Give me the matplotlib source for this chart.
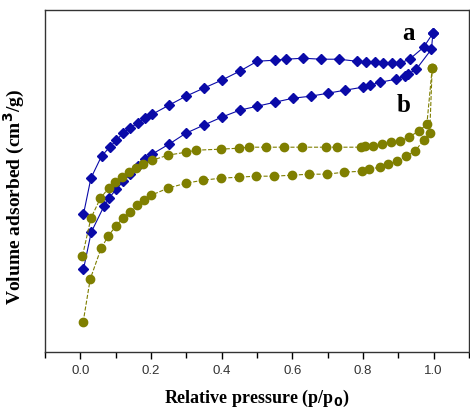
import matplotlib.pyplot as plt

# sample a (blue diamonds) - adsorption / desorption branches
a_ads_p = [0.009, 0.031, 0.067, 0.081, 0.102, 0.122, 0.141, 0.163, 0.182, 0.203,
           0.251, 0.299, 0.349, 0.400, 0.451, 0.501, 0.551, 0.602, 0.652, 0.701,
           0.749, 0.799, 0.819, 0.849, 0.894, 0.918, 0.927, 0.951, 0.994, 0.998]
a_ads_v = [83, 120, 146, 154, 163, 171, 178, 186, 193, 198,
           208, 219, 227, 235, 242, 246, 250, 254, 256, 259,
           262, 265, 267, 270, 273, 276, 278, 283, 303, 319]
a_des_p = [0.998, 0.972, 0.932, 0.904, 0.881, 0.857, 0.833, 0.808, 0.782, 0.732,
           0.681, 0.631, 0.582, 0.551, 0.501, 0.451, 0.400, 0.349, 0.299, 0.251,
           0.204, 0.182, 0.162, 0.140, 0.121, 0.102, 0.083, 0.060, 0.030, 0.009]
a_des_v = [319, 305, 293, 289, 289, 289, 290, 290, 291, 293,
           293, 294, 293, 292, 291, 281, 272, 264, 256, 247,
           238, 234, 229, 224, 219, 212, 205, 196, 174, 138]

# sample b (olive circles)
b_ads_p = [0.008, 0.028, 0.059, 0.079, 0.100, 0.121, 0.140, 0.161, 0.180, 0.201,
           0.248, 0.299, 0.348, 0.398, 0.448, 0.497, 0.548, 0.599, 0.648, 0.697,
           0.747, 0.797, 0.817, 0.847, 0.872, 0.897, 0.922, 0.947, 0.972, 0.989, 0.996]
b_ads_v = [30, 73, 104, 116, 126, 134, 140, 147, 152, 157,
           164, 169, 172, 174, 175, 176, 176, 177, 178, 178,
           180, 181, 183, 185, 188, 191, 196, 201, 212, 219, 284]
b_des_p = [0.996, 0.981, 0.958, 0.929, 0.905, 0.879, 0.853, 0.828, 0.805, 0.795,
           0.728, 0.696, 0.627, 0.577, 0.527, 0.478, 0.448, 0.397, 0.328, 0.299,
           0.248, 0.204, 0.178, 0.158, 0.139, 0.119, 0.099, 0.080, 0.057, 0.030, 0.006]
b_des_v = [284, 228, 221, 215, 211, 210, 208, 206, 206, 205,
           205, 205, 205, 205, 205, 205, 204, 203, 202, 200,
           197, 192, 188, 184, 180, 175, 170, 164, 154, 134, 96]

blue = '#0a0aa8'
olive = '#7f7f00'
serif = 'Liberation Serif'

fig = plt.figure(figsize=(4.7, 4.09), dpi=100)
ax = fig.add_axes([0.0957, 0.139, 0.902, 0.836])

ax.plot(a_ads_p, a_ads_v, '-', color=blue, lw=0.8, marker='D', ms=5.5, mec=blue, mfc=blue)
ax.plot(a_des_p, a_des_v, '-', color=blue, lw=0.8, marker='D', ms=5.5, mec=blue, mfc=blue)
ax.plot(b_ads_p, b_ads_v, '--', color=olive, lw=0.8, marker='o', ms=6, mec=olive, mfc=olive)
ax.plot(b_des_p, b_des_v, '--', color=olive, lw=0.8, marker='o', ms=6, mec=olive, mfc=olive)

ax.text(0.93, 319, 'a', fontsize=18, fontweight='bold', family=serif, ha='center', va='center')
ax.text(0.915, 247, 'b', fontsize=18, fontweight='bold', family=serif, ha='center', va='center')

ax.set_xlim(-0.1, 1.1)
ax.set_ylim(0, 342)
ax.set_xticks([0.0, 0.2, 0.4, 0.6, 0.8, 1.0])
ax.set_xticks([-0.1, 0.1, 0.3, 0.5, 0.7, 0.9, 1.1], minor=True)
ax.set_xticklabels(['0.0', '0.2', '0.4', '0.6', '0.8', '1.0'], family='Liberation Sans', fontsize=9.5, color='#333333')
ax.tick_params(axis='x', which='major', direction='out', length=5, width=1, pad=4)
ax.tick_params(axis='x', which='minor', direction='out', length=4, width=1)
ax.set_yticks([])
for s in ax.spines.values():
    s.set_color('#333333')
    s.set_linewidth(1)

ax.set_xlabel('Relative pressure (p/p$_\\mathbf{0}$)', family=serif, fontweight='bold', fontsize=13, labelpad=8)
ax.set_ylabel('Volume adsorbed (cm$^\\mathbf{3}$/g)', family=serif, fontweight='bold', fontsize=14)
ax.yaxis.set_label_coords(-0.042, 0.453)

fig.savefig('out.png', dpi=100)
